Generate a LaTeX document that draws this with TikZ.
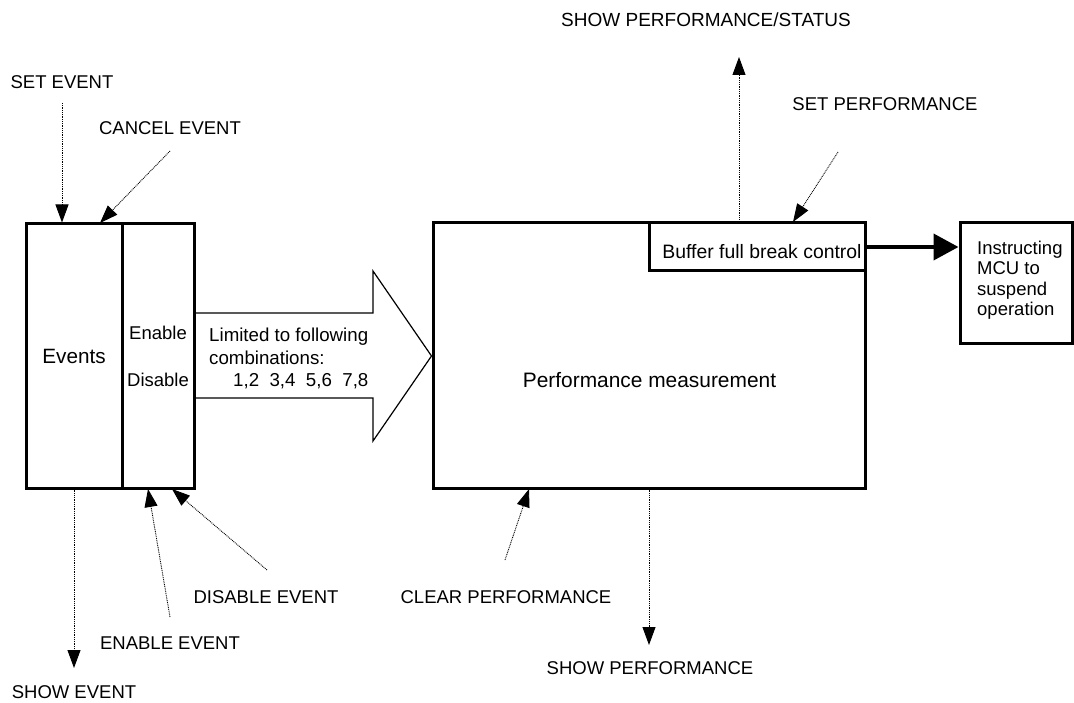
\documentclass[tikz,border=0pt]{standalone}
\usepackage{fontspec}
\setmainfont{Liberation Sans}
\usetikzlibrary{arrows.meta,calc}
\begin{document}
\begin{tikzpicture}[x=1pt,y=-1pt,
  lbl/.style={font=\fontsize{18.5}{20.5}\selectfont, inner sep=0pt},
  box/.style={draw, line width=3pt, inner sep=0pt},
  darr/.style={line width=0.9pt, dash pattern=on 0.9pt off 0.9pt, -{Triangle[length=18pt,width=13pt]}},
  thickarr/.style={line width=4pt, -{Triangle[length=25pt,width=26pt]}},
  bigarrow/.style={line width=1.2pt}]
\useasboundingbox (0,0) rectangle (1074,703);

% boxes
\node[box, minimum width=96pt, minimum height=264pt, font=\fontsize{20.7}{22}\selectfont] (ev) at (74,356) {Events};
\node[box, minimum width=72pt, minimum height=264pt] (en) at (158,356) {};
\node[lbl] (enl) at (158,332.5) {Enable};
\node[lbl] (dil) at (158,379.5) {Disable};
\node[box, minimum width=432pt, minimum height=265pt] (perf) at (649,355.5) {};
\node[lbl, font=\fontsize{20.9}{22}\selectfont] (perft) at (649.5,380) {Performance measurement};
\node[box, minimum width=216pt, minimum height=48pt] (buf) at (757,247) {};
\node[lbl, font=\fontsize{19.4}{21}\selectfont] (buft) at (762,252) {Buffer full break control};
\node[box, minimum width=112pt, minimum height=121pt] (mcu) at (1016,283.5) {};
\node[lbl, align=left, anchor=north west] (mcut) at (977,240.5) {Instructing\\MCU to\\suspend\\operation};

% big hollow arrow
\draw[bigarrow] (en.east |- 0,313) -- (373,313) -- (373,271) -- (perf.west |- 0,356)
  -- (373,441) -- (373,398) -- (en.east |- 0,398);
\node[lbl, font=\fontsize{18.7}{22.5}\selectfont, align=left, anchor=north west] (lim) at (209,328)
  {Limited to following\\combinations:\\\hspace*{24pt}1,2\ \ 3,4\ \ 5,6\ \ 7,8};

% thick arrow
\draw[thickarr] (buf.east) -- (buf.east -| mcu.west);

% labels
\node[lbl] (lsetev) at (62,82) {SET EVENT};
\node[lbl] (lcanc) at (170,128) {CANCEL EVENT};
\node[lbl, font=\fontsize{19}{21}\selectfont] (lsps) at (706,20) {SHOW PERFORMANCE/STATUS};
\node[lbl] (lsetp) at (885,104) {SET PERFORMANCE};
\node[lbl] (lshev) at (74,692) {SHOW EVENT};
\node[lbl] (lenev) at (170,643) {ENABLE EVENT};
\node[lbl] (ldisev) at (266,597) {DISABLE EVENT};
\node[lbl] (lclr) at (506,597) {CLEAR PERFORMANCE};
\node[lbl] (lshp) at (650,668) {SHOW PERFORMANCE};

% free ends
\coordinate (setS) at (62,103);
\coordinate (cancS) at (170,151);
\coordinate (cancE) at (100,223);
\coordinate (spsE) at (739,57);
\coordinate (spfS) at (838,152);
\coordinate (spfE) at (793,222);
\coordinate (shevE) at (74,668);
\coordinate (enS) at (170,617);
\coordinate (enE) at (148,489);
\coordinate (disS) at (267,570);
\coordinate (disE) at (172,489);
\coordinate (clrS) at (505,560);
\coordinate (clrE) at (529,489);
\coordinate (shpE) at (649,645);

% dotted arrows
\draw[darr] (setS) -- (setS |- ev.north);
\draw[darr] (cancS) -- (cancE);
\draw[darr] (spsE |- perf.north) -- (spsE);
\draw[darr] (spfS) -- (spfE);
\draw[darr] (ev.south) -- (shevE);
\draw[darr] (enS) -- (enE);
\draw[darr] (disS) -- (disE);
\draw[darr] (clrS) -- (clrE);
\draw[darr] (perf.south) -- (shpE);
\end{tikzpicture}
\end{document}
